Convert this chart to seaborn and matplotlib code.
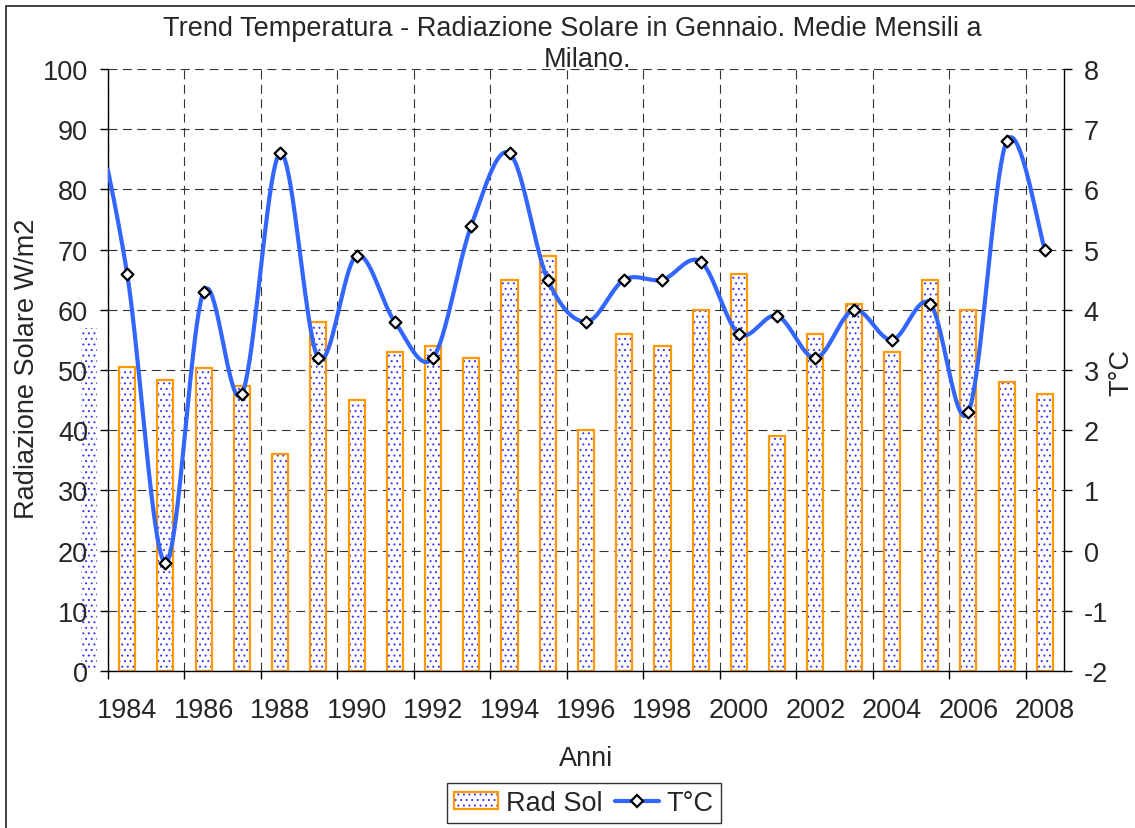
import numpy as np
import pandas as pd
import matplotlib
matplotlib.use("Agg")
import matplotlib.pyplot as plt
import seaborn as sns
from matplotlib.patches import Rectangle
from matplotlib.lines import Line2D
from matplotlib.legend_handler import HandlerTuple

# ---------------- data ----------------
years = list(range(1983, 2009))
rad_sol = [57, 50.5, 48.3, 50.4, 47.3, 36, 58, 45, 53, 54, 52, 65, 69, 40,
           56, 54, 60, 66, 39, 56, 61, 53, 65, 60, 48, 46]
temp_c = [7.8, 4.6, -0.2, 4.3, 2.6, 6.6, 3.2, 4.9, 3.8, 3.2, 5.4, 6.6, 4.5,
          3.8, 4.5, 4.5, 4.8, 3.6, 3.9, 3.2, 4.0, 3.5, 4.1, 2.3, 6.8, 5.0]
x_labels = ['1984', '1986', '1988', '1990', '1992', '1994', '1996',
            '1998', '2000', '2002', '2004', '2006', '2008']
left_ticks = [0, 10, 20, 30, 40, 50, 60, 70, 80, 90, 100]
right_ticks = [-2, -1, 0, 1, 2, 3, 4, 5, 6, 7, 8]

# ---------------- style ----------------
sns.set_theme(style="white")
plt.rcParams['font.family'] = ['Liberation Sans', 'DejaVu Sans']
FS = 19.5
BLUE_LINE = '#3366ff'
DOT_BLUE = '#3535ff'
ORANGE = '#ff9900'
HATCH = '...'
plt.rcParams['hatch.linewidth'] = 0.7

W, H = 1135, 829
fig = plt.figure(figsize=(W / 100, H / 100), dpi=100)
ax = fig.add_axes([108 / W, 1 - 672 / H, (1064 - 108) / W, (672 - 70) / H])


def smooth(x, y, n=40):
    """Excel-style smoothed line (cubic Bezier / Catmull-Rom)."""
    x = np.asarray(x, float)
    y = np.asarray(y, float)
    xp = np.concatenate([[x[0]], x, [x[-1]]])
    yp = np.concatenate([[y[0]], y, [y[-1]]])
    t = np.linspace(0, 1, n, endpoint=False)
    xs, ys = [], []
    for i in range(1, len(xp) - 2):
        for P, out in ((xp, xs), (yp, ys)):
            p0, p1, p2, p3 = P[i - 1], P[i], P[i + 1], P[i + 2]
            c1 = p1 + (p2 - p0) / 6
            c2 = p2 - (p3 - p1) / 6
            out.extend((1 - t) ** 3 * p1 + 3 * (1 - t) ** 2 * t * c1
                       + 3 * (1 - t) * t ** 2 * c2 + t ** 3 * p2)
    xs.append(x[-1])
    ys.append(y[-1])
    return np.array(xs), np.array(ys)


df = pd.DataFrame({'Anno': years, 'Rad': rad_sol})

# hatched (dotted) fill layer
sns.barplot(data=df, x='Anno', y='Rad', native_scale=True, width=0.42,
            color='white', saturation=1, errorbar=None,
            edgecolor=DOT_BLUE, linewidth=0, ax=ax)
n1 = len(ax.patches)
for p in ax.patches:
    p.set_hatch(HATCH)
    p.set_zorder(2)
    if abs(p.get_x() + p.get_width() / 2 - years[0]) < 0.3:
        p.set_clip_on(False)
        p.set_zorder(0.3)

# orange outline layer
sns.barplot(data=df, x='Anno', y='Rad', native_scale=True, width=0.42,
            color=ORANGE, saturation=1, errorbar=None, fill=False,
            linewidth=1.6, ax=ax)
for p in ax.patches[n1:]:
    p.set_edgecolor(ORANGE)
    p.set_zorder(2.1)
    if abs(p.get_x() + p.get_width() / 2 - years[0]) < 0.3:
        p.set_visible(False)

ax.set_xlim(1983.5, 2008.5)
ax.set_ylim(0, 100)
ax.set_yticks(left_ticks)
ax.set_yticklabels([str(v) for v in left_ticks])
ax.set_xticks(np.arange(1983.5, 2008, 2.0))
ax.set_xticklabels([])
ax.set_xticks(np.arange(1984, 2009, 2), minor=True)
ax.set_xticklabels(x_labels, minor=True)
ax.set_xlabel('')
ax.set_ylabel('')
ax.set_axisbelow(True)
ax.grid(True, which='major', axis='both', color='#333333',
        linestyle=(0, (8, 5)), linewidth=0.8)

ax.tick_params(axis='y', which='major', direction='out', length=5.8,
               width=1, color='black', labelsize=FS, pad=8.5, left=True)
ax.tick_params(axis='x', which='major', direction='out', length=5.8,
               width=1, color='black', bottom=True)
ax.tick_params(axis='x', which='minor', length=0, labelsize=FS, pad=19,
               bottom=True)
for s in ('top', 'right'):
    ax.spines[s].set_visible(False)
for s in ('left', 'bottom'):
    ax.spines[s].set_color('black')
    ax.spines[s].set_linewidth(1)

# temperature axis
ax2 = ax.twinx()
xs, ys = smooth(years, temp_c)
sns.lineplot(x=xs, y=ys, sort=False, estimator=None, color=BLUE_LINE,
             linewidth=3, ax=ax2, zorder=3)
sns.scatterplot(x=years, y=temp_c, marker='D', s=36, color='white',
                edgecolor='black', linewidth=1.6, ax=ax2, zorder=4)
ax2.set_ylim(-2, 8)
ax2.set_xlim(1983.5, 2008.5)
ax2.set_yticks(right_ticks)
ax2.set_yticklabels([str(v) for v in right_ticks])
ax2.tick_params(axis='y', direction='out', length=5.8, width=1,
                color='black', labelsize=FS, pad=8.5, right=True)
ax2.set_ylabel('')
ax2.grid(False)
for s in ('top', 'left', 'bottom'):
    ax2.spines[s].set_visible(False)
ax2.spines['right'].set_color('black')
ax2.spines['right'].set_linewidth(1)

# texts
fig.text(572 / W, 1 - 36 / H,
         'Trend Temperatura - Radiazione Solare in Gennaio. Medie Mensili a',
         ha='center', va='baseline', fontsize=FS)
fig.text(588 / W, 1 - 67 / H, 'Milano.', ha='center', va='baseline',
         fontsize=FS)
fig.text(586 / W, 1 - 766 / H, 'Anni', ha='center', va='baseline',
         fontsize=FS)
fig.text(27 / W, 1 - 369 / H, 'Radiazione Solare W/m2',
         rotation=90, ha='center', va='center', fontsize=FS)
fig.text(1121 / W, 1 - 373 / H, 'T°C', rotation=90, ha='center',
         va='center', fontsize=FS)

# legend
h_fill = Rectangle((0, 0), 1, 1, facecolor='white', edgecolor=DOT_BLUE,
                   linewidth=0, hatch=HATCH)
h_edge = Rectangle((0, 0), 1, 1, facecolor='none', edgecolor=ORANGE,
                   linewidth=1.6)
h_line = Line2D([], [], color=BLUE_LINE, linewidth=3, marker='D',
                markersize=6, markerfacecolor='white',
                markeredgecolor='black', markeredgewidth=1.6)
leg = fig.legend([(h_fill, h_edge), h_line], ['Rad Sol', 'T°C'],
                 handler_map={tuple: HandlerTuple(ndivide=1)},
                 loc='center', bbox_to_anchor=(584 / W, 1 - 804 / H),
                 ncol=2, fontsize=FS, frameon=True, fancybox=False,
                 handlelength=1.6, handleheight=0.62, handletextpad=0.3,
                 columnspacing=0.48, borderpad=0.25, borderaxespad=0)
leg.get_frame().set_edgecolor('black')
leg.get_frame().set_linewidth(1)

# figure border (top & left visible)
fig.patches.append(Rectangle((6 / W, -0.1), 2, 1 - 7 / H + 0.1,
                             transform=fig.transFigure, fill=False,
                             edgecolor='#222222', linewidth=1.2))

fig.savefig('out.png', dpi=100)
